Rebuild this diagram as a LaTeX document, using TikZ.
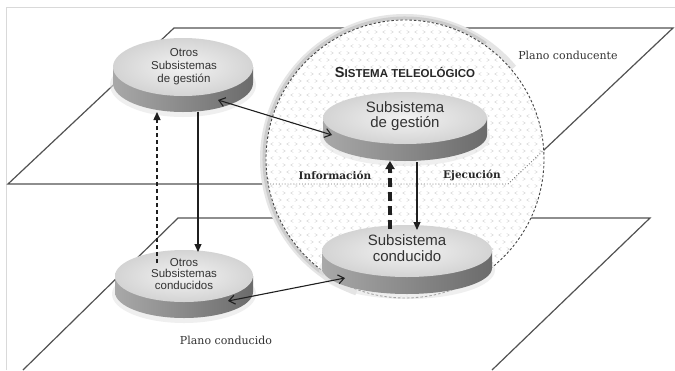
\documentclass[tikz,border=0pt]{standalone}
\usepackage{fontspec}
\setmainfont{Liberation Sans}
\newfontfamily\serifl{DejaVu Serif}
\usetikzlibrary{arrows.meta,calc}
\newcommand\drawdisk[5]{%
 \begin{scope}[shift={(#1,#2)}]
  \fill[black!10,opacity=.6] (0pt,{-#5pt-2pt}) ellipse[x radius={#3pt+3pt}, y radius={#4pt+3pt}];
  \shade[left color=black!34,middle color=black!50,right color=black!58] (-#3pt,0pt) -- (-#3pt,-#5pt) arc[start angle=180,end angle=360,x radius=#3pt,y radius=#4pt] -- (#3pt,0pt) -- cycle;
  \shade[inner color=black!5,outer color=black!17] (0pt,0pt) ellipse[x radius=#3pt,y radius=#4pt];
 \end{scope}}
\begin{document}
\begin{tikzpicture}[x=1pt,y=-1pt,
 planeline/.style={draw=black!68,line width=1.2pt},
 conn/.style={draw=black!88,line width=1.1pt},
 dbl/.style={conn,{Straight Barb[length=6pt,width=9pt]}-{Straight Barb[length=6pt,width=9pt]}},
 solidarr/.style={conn,-{Triangle[length=8pt,width=7pt]}},
 dasharr/.style={conn,line width=1.3pt,dash pattern=on 4pt off 3pt,-{Triangle[length=8pt,width=7pt]}},
 thickarr/.style={conn,line width=3.4pt,dash pattern=on 9pt off 5pt,-{Triangle[length=8pt,width=9pt]}},
 chev/.style={draw=black!17,line width=0.4pt},
 smalltxt/.style={font=\fontsize{11.5}{13}\selectfont,text=black!80,align=center},
 bigtxt/.style={font=\fontsize{15}{15.5}\selectfont,text=black!80,align=center},
 planetxt/.style={font=\serifl\fontsize{11}{13}\selectfont,text=black!80},
 boldtxt/.style={font=\serifl\bfseries\fontsize{10.5}{12}\selectfont,text=black!85}]
\useasboundingbox (0,0) rectangle (675,370);
\fill[white] (0,0) rectangle (675,370);
% frame
\draw[black!15,line width=1pt] (6,370) -- (6,7) -- (675,7);
% lower plane
\draw[planeline] (23,370) -- (178,218) -- (650,218) -- (492,370);
% upper plane
\draw[planeline] (174,28) -- (673,28) -- (508,184) -- (8,184) -- cycle;
% teleological circle
\coordinate (C) at (405,159);
\draw[black!10,line width=6pt] (C) ++(40:142pt) arc[start angle=40,end angle=250,radius=142pt];
\draw[black!20,line width=3pt] (C) ++(55:141pt) arc[start angle=55,end angle=235,radius=141pt];
\fill[white] (C) circle[radius=139pt];
\begin{scope}
 \clip (C) circle[radius=139pt];
 \foreach \i in {0,...,41}{
  \foreach \j in {0,...,35}{
   \pgfmathsetmacro\px{264+8*\j+4*mod(\i,2)}
   \pgfmathsetmacro\py{18+7*\i}
   \pgfmathtruncatemacro\k{mod(\j,2)}
   \ifnum\k=0
    \draw[chev] (\px-1.3,\py-1.5) -- (\px+1.3,\py) -- (\px-1.3,\py+1.5);
   \else
    \draw[chev] (\px+1.3,\py-1.5) -- (\px-1.3,\py) -- (\px+1.3,\py+1.5);
   \fi
  }}
 \draw[black!55,line width=0.9pt,dotted] (673,28) -- (508,184) -- (8,184);
\end{scope}
\draw[black!72,line width=0.9pt,dash pattern=on 2.5pt off 2pt] (C) circle[radius=139pt];
% disks
\drawdisk{183}{67}{70}{29}{16}
\drawdisk{405}{118}{82}{26}{17}
\drawdisk{407}{251}{85}{26}{17}
\drawdisk{184}{276}{69}{26}{16}
\node[smalltxt] (d1) at (184,67) {Otros\\Subsistemas\\de gestión};
\node[bigtxt] (d2) at (405,116) {Subsistema\\de gestión};
\node[bigtxt] (d3) at (407,248) {Subsistema\\conducido};
\node[smalltxt,font=\fontsize{11.5}{11.8}\selectfont] (d4) at (184,274) {Otros\\Subsistemas\\conducidos};
% connector ends
\coordinate (a1s) at (218,100);
\coordinate (a1e) at (332,135);
\coordinate (a2s) at (228,301);
\coordinate (a2e) at (345,278);
\coordinate (v1s) at (198,112);
\coordinate (v1e) at (198,252);
\coordinate (v2s) at (157,263);
\coordinate (v2e) at (157,112);
\coordinate (v3s) at (390,229);
\coordinate (v3e) at (390,161);
\coordinate (v4s) at (417,162);
\coordinate (v4e) at (417,230);
\draw[dbl] (a1s) -- (a1e);
\draw[dbl] (a2s) -- (a2e);
\draw[solidarr] (v1s) -- (v1e);
\draw[dasharr] (v2s) -- (v2e);
\draw[thickarr] (v3s) -- (v3e);
\draw[solidarr] (v4s) -- (v4e);
% labels
\node[planetxt] (pc1) at (568,55) {Plano conducente};
\node[planetxt] (pc2) at (226,340) {Plano conducido};
\node[font=\bfseries,text=black!85] (st) at (405,72) {{\fontsize{14.5}{14}\selectfont S}{\fontsize{11.5}{11}\selectfont ISTEMA TELEOLÓGICO}};
\node[boldtxt] (inf) at (335,175) {Información};
\node[boldtxt] (eje) at (472,175) {Ejecución};
\end{tikzpicture}
\end{document}
